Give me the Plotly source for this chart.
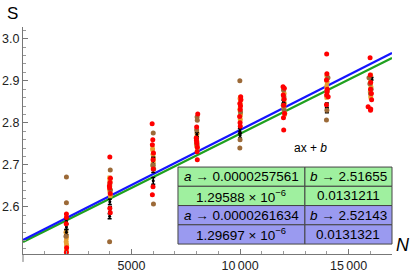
import plotly.graph_objects as go

# ---------------- data ----------------
N_red = [2000, 2000, 1990, 2010, 2000, 1990, 2010, 2000,
         4000, 4030, 4010, 3990, 4020, 4000, 4020, 3980,
         5950, 5980, 5960, 6010, 5990, 6000, 5990, 5960,
         8050, 8000, 7980, 8010, 8030, 8020, 8030, 7990,
         10030, 10040, 9990, 10010, 9980, 10000, 10010, 10020,
         11980, 12040, 11990, 12030, 12010, 12050, 12000, 12010,
         13990, 14000, 13980, 14020, 13990, 14060, 13980, 14010,
         15990, 16000, 16020, 16010, 16050, 16060, 15900, 16020, 16010]
S_red = [2.583, 2.575, 2.560, 2.503, 2.492, 2.480, 2.474, 2.486,
         2.719, 2.668, 2.658, 2.645, 2.632, 2.597, 2.586, 2.650,
         2.798, 2.760, 2.748, 2.728, 2.712, 2.690, 2.648, 2.629,
         2.821, 2.790, 2.764, 2.752, 2.742, 2.731, 2.712, 2.758,
         2.862, 2.855, 2.846, 2.832, 2.815, 2.800, 2.792, 2.840,
         2.886, 2.882, 2.866, 2.856, 2.842, 2.822, 2.812, 2.783,
         2.964, 2.917, 2.902, 2.880, 2.866, 2.862, 2.843, 2.874,
         2.955, 2.914, 2.896, 2.880, 2.870, 2.855, 2.838, 2.833, 2.830]

N_brown = [2000, 2000, 1980, 2010,
           4020, 4000, 4030, 3990,
           6000, 5980, 6020, 6010,
           8020, 8030, 8000, 8020,
           9990, 10020, 10000, 9990,
           12000, 12020, 11990, 12030,
           14050, 13990, 14000, 13980,
           15940, 15980, 16040, 16010]
S_brown = [2.671, 2.610, 2.530, 2.478,
           2.688, 2.655, 2.640, 2.517,
           2.776, 2.700, 2.690, 2.607,
           2.814, 2.806, 2.783, 2.748,
           2.900, 2.826, 2.760, 2.740,
           2.878, 2.862, 2.842, 2.830,
           2.907, 2.875, 2.830, 2.807,
           2.907, 2.893, 2.880, 2.870]

N_orange = [1980, 2000, 1990, 2010, 2000, 1990, 2000,
            3990, 4010, 4000, 3990, 4020,
            5970, 5990, 6010, 6000, 5990,
            8020, 8000, 8010, 7990, 8030,
            10000, 10010, 9990, 10020, 10010,
            12030, 12020, 12040, 12020, 12060,
            14000, 14010, 13990, 14010, 13990,
            16020, 16010, 16030, 16000, 16020]
S_orange = [2.540, 2.528, 2.517, 2.508, 2.496, 2.485, 2.476,
            2.668, 2.660, 2.650, 2.640, 2.628,
            2.738, 2.725, 2.715, 2.705, 2.697,
            2.775, 2.765, 2.756, 2.748, 2.740,
            2.858, 2.845, 2.832, 2.820, 2.808,
            2.870, 2.858, 2.846, 2.835, 2.822,
            2.912, 2.898, 2.886, 2.874, 2.862,
            2.912, 2.898, 2.885, 2.874, 2.862]
E_orange = [0.005] * len(S_orange)

N_black = [2000, 2000, 2000,
           4000, 4010, 3990,
           6000, 6000, 6000,
           8010, 8000,
           10000, 9990, 10000,
           12000, 12010,
           14000, 14000,
           16060]
S_black = [2.566, 2.552, 2.540,
           2.612, 2.595, 2.578,
           2.710, 2.690, 2.662,
           2.772, 2.757,
           2.795, 2.780, 2.770,
           2.850, 2.843,
           2.842, 2.829,
           2.905]
E_black = [0.006, 0.006, 0.006,
           0.006, 0.006, 0.006,
           0.008, 0.008, 0.008,
           0.005, 0.005,
           0.006, 0.006, 0.006,
           0.004, 0.004,
           0.005, 0.005,
           0.003]

fit_a = [0.0000257561, 0.0000261634]
fit_b = [2.51655, 2.52143]
fit_a_txt = ["0.0000257561", "0.0000261634"]
fit_b_txt = ["2.51655", "2.52143"]
err_a_txt = ["1.29588 × 10<sup>−6</sup>", "1.29697 × 10<sup>−6</sup>"]
err_b_txt = ["0.0131211", "0.0131321"]
line_N = [0, 17000]

x_tick_vals = [5000, 10000, 15000]
x_tick_text = ["5000", "10\u2009000", "15\u2009000"]
y_tick_vals = [2.6, 2.7, 2.8, 2.9, 3.0]
y_tick_text = ["2.6", "2.7", "2.8", "2.9", "3.0"]

# ---------------- figure ----------------
FONT = "Liberation Sans, Arial, sans-serif"
fig = go.Figure()

line_colors = ["#1fa01f", "#1414ff"]
for a, b, c in zip(fit_a, fit_b, line_colors):
    fig.add_trace(go.Scatter(x=line_N, y=[a * n + b for n in line_N], mode="lines",
                             line=dict(color=c, width=2.2), hoverinfo="skip"))

fig.add_trace(go.Scatter(x=N_orange, y=S_orange, mode="markers", cliponaxis=False,
                         marker=dict(color="#e89e30", size=5),
                         error_y=dict(type="data", array=E_orange, color="#e89e30",
                                      thickness=1.6, width=2)))
fig.add_trace(go.Scatter(x=N_black, y=S_black, mode="markers", cliponaxis=False,
                         marker=dict(color="black", size=3),
                         error_y=dict(type="data", array=E_black, color="black",
                                      thickness=1.5, width=2)))
fig.add_trace(go.Scatter(x=N_brown, y=S_brown, mode="markers", cliponaxis=False,
                         marker=dict(color="#9c6a38", size=5)))
fig.add_trace(go.Scatter(x=N_red, y=S_red, mode="markers", cliponaxis=False,
                         marker=dict(color="#ff0000", size=5)))

# ---------------- table (legend) ----------------
tx0, tx1, txm = 0.420, 1.0, 0.764
ty_top, ty_step = 0.383, 0.0848
row_fill = ["#9ff09f", "#9ff09f", "#9a9af0", "#9a9af0"]
shapes = []
annos = []
for r in range(4):
    y1 = ty_top - r * ty_step
    y0 = y1 - ty_step
    for (xa, xb) in [(tx0, txm), (txm, tx1)]:
        shapes.append(dict(type="rect", xref="paper", yref="paper", x0=xa, x1=xb, y0=y0, y1=y1,
                           fillcolor=row_fill[r], line=dict(color="#444444", width=1), layer="above"))
for k in range(2):
    rows = [("<i>a</i> → " + fit_a_txt[k], "<i>b</i> → " + fit_b_txt[k]),
            (err_a_txt[k], err_b_txt[k])]
    for j, (t1, t2) in enumerate(rows):
        r = 2 * k + j
        yc = ty_top - (r + 0.5) * ty_step
        for xc, t in [((tx0 + txm) / 2, t1), ((txm + tx1) / 2, t2)]:
            annos.append(dict(x=xc, y=yc, xref="paper", yref="paper", text=t,
                              xanchor="center", yanchor="middle", showarrow=False,
                              font=dict(size=13.5, color="black", family=FONT)))

annos.append(dict(x=0.778, y=0.467, xref="paper", yref="paper", text="ax + <i>b</i>",
                  xanchor="center", yanchor="middle",
                  showarrow=False, font=dict(size=12, color="black", family=FONT)))
annos.append(dict(x=0, y=1, xref="paper", yref="paper", text="S", xanchor="center", yanchor="bottom",
                  xshift=-11, yshift=2, showarrow=False, font=dict(size=17, color="black", family=FONT)))
annos.append(dict(x=1, y=0, xref="paper", yref="paper", text="<i>N</i>", xanchor="left", yanchor="middle",
                  xshift=2, yshift=9, showarrow=False, font=dict(size=18, color="black", family=FONT)))

# y axis extension below the x axis
shapes.append(dict(type="line", xref="paper", yref="paper", x0=0, x1=0, y0=-0.035, y1=0,
                   line=dict(color="#777777", width=1)))

fig.update_layout(
    width=415, height=275, margin=dict(l=23, r=23, t=27, b=21, autoexpand=False),
    paper_bgcolor="white", plot_bgcolor="white", showlegend=False,
    shapes=shapes, annotations=annos,
    font=dict(family=FONT, size=12, color="#222222"),
    xaxis=dict(range=[0, 17000], automargin=False, showgrid=False, zeroline=False, showline=True,
               linecolor="#777777", linewidth=1, ticks="inside", ticklen=5, tickcolor="#777777",
               tickvals=x_tick_vals, ticktext=x_tick_text,
               minor=dict(dtick=1000, tick0=0, ticks="inside", ticklen=3, tickcolor="#999999"),
               tickfont=dict(size=12.5, color="#222222")),
    yaxis=dict(range=[2.488, 3.028], automargin=False, showgrid=False, zeroline=False, showline=True,
               linecolor="#777777", linewidth=1, ticks="inside", ticklen=5, tickcolor="#777777",
               tickvals=y_tick_vals, ticktext=y_tick_text,
               minor=dict(dtick=0.02, tick0=2.5, ticks="inside", ticklen=3, tickcolor="#999999"),
               tickfont=dict(size=12.5, color="#222222")),
)

fig.write_html("out.html", config={"displayModeBar": False},
               post_script="document.body.style.margin='0px';")
